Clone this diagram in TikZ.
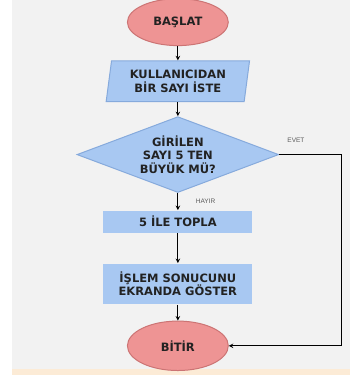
\documentclass[tikz,border=0pt]{standalone}
\usepackage{fontspec}
\setmainfont{DejaVu Sans}
\newfontfamily\smallfont{Liberation Sans}
\usepackage{xcolor}
\usepackage{tikz}
\usetikzlibrary{positioning}
\usetikzlibrary{shapes.geometric}
\definecolor{termfill}{HTML}{EE9494}
\definecolor{termline}{HTML}{CC7474}
\definecolor{boxfill}{HTML}{A8C8F2}
\definecolor{boxline}{HTML}{86AADC}
\definecolor{pagegrey}{HTML}{F2F2F2}
\definecolor{pagestrip}{HTML}{FCEBD6}
\definecolor{inktext}{HTML}{222222}
\tikzset{
	chart/.style={
			font=\bfseries\fontsize{11.5}{13.5}\selectfont,
			text=inktext,
			align=center,
			inner sep=0pt
		},
	terminal/.style={chart,
			ellipse,
			draw=termline,
			fill=termfill,
			minimum width=3.55cm,
			minimum height=1.65cm
		},
	inputbox/.style={chart,
			trapezium,
			trapezium left angle=80,
			trapezium right angle=100,
			trapezium stretches=true,
			draw=boxline,
			fill=boxfill,
			minimum width=5.05cm,
			minimum height=1.44cm
		},
	decision/.style={chart,
			diamond,
			aspect=2.66,
			draw=boxline,
			fill=boxfill,
			minimum width=7.1cm,
			minimum height=2.67cm
		},
	process/.style={chart,
			rectangle,
			fill=boxfill,
			minimum width=5.24cm
		},
	answer/.style={font=\smallfont\fontsize{6.5}{7}\selectfont,
			text=black!65
		}
}

\begin{document}
\begin{tikzpicture}[line width=1pt]
		% Page
		\fill[pagegrey] (-5.84,0.78) rectangle (6.07,-12.21);
		\fill[pagestrip] (-5.84,-12.21) rectangle (6.07,-12.42);
		\useasboundingbox (-6.26,0.78) rectangle (6.07,-12.63);

		% Start
		\node[terminal] (start) at (0,0) {BAŞLAT};

		% Input
		\node[inputbox,
			below=0.5cm of start
		] (ask) {KULLANICIDAN\\BİR SAYI İSTE};

		% Decision
		\node[decision,
			below=0.49cm of ask
		] (check) {GİRİLEN\\SAYI 5 TEN\\BÜYÜK MÜ?};

		% Add five
		\node[process,
			minimum height=0.78cm,
			below=0.6cm of check
		] (add) {5 İLE TOPLA};

		% Show result
		\node[process,
			minimum height=1.44cm,
			below=1.05cm of add
		] (show) {İŞLEM SONUCUNU\\EKRANDA GÖSTER};

		% End
		\node[terminal,
			minimum height=1.74cm,
			below=0.55cm of show
		] (finish) {BİTİR};

		% Arrows
		\draw[-stealth] (start.south) -- (ask.north);

		\draw[-stealth] (ask.south) -- (check.north);

		\draw[-stealth] (check.south) -- (add.north)
		node[midway,right=0.5cm,answer]{HAYIR};

		\draw[-stealth] (add.south) -- (show.north);

		\draw[-stealth] (show.south) -- (finish.north);

		\draw[-stealth] (check.east) -- node[pos=0.27,above=0.28cm,answer]{EVET}
		++(2.18,0) |- (finish.east);
	\end{tikzpicture}
\end{document}
